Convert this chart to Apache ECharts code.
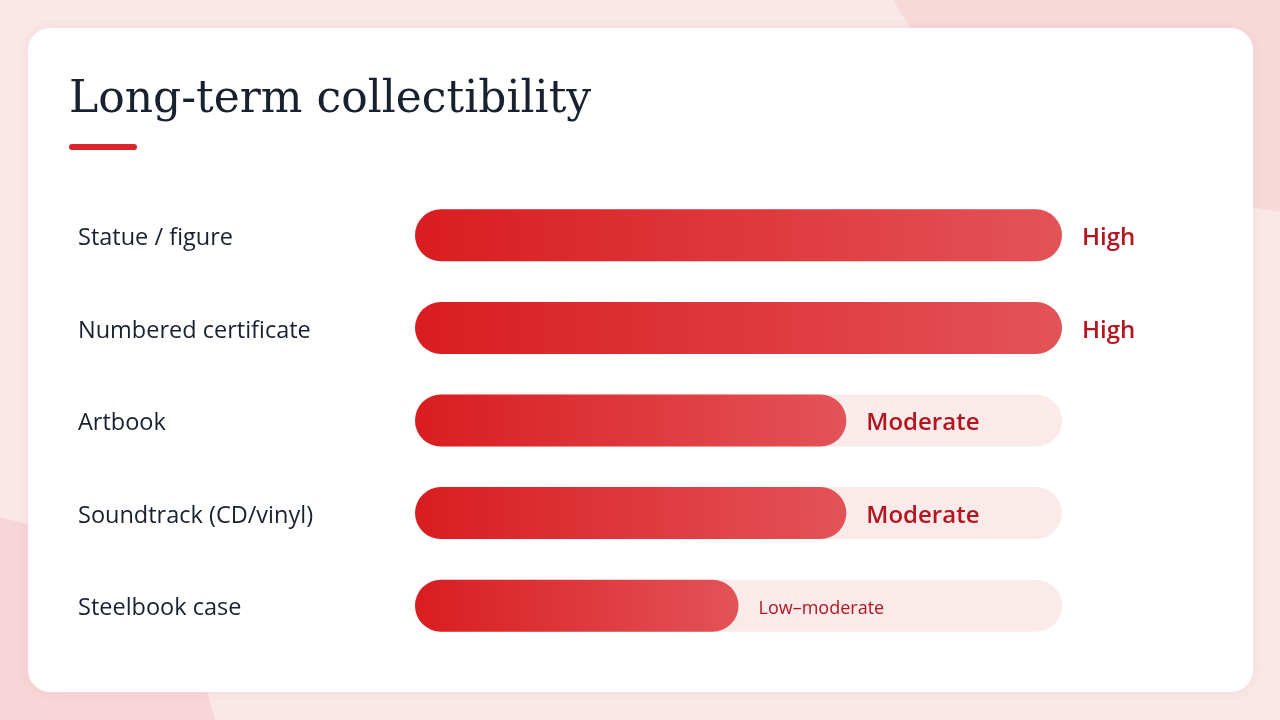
<!DOCTYPE html>
<html>
<head>
<meta charset="utf-8">
<style>
  html, body { margin: 0; padding: 0; width: 1280px; height: 720px; overflow: hidden; background: #fae7e7; }
  #chart { width: 1280px; height: 720px; }
</style>
<script src="https://cdn.jsdelivr.net/npm/echarts@6/dist/echarts.min.js"></script>
</head>
<body>
<div id="chart"></div>
<script>
// ---- Data ----
const categories = ['Statue / figure', 'Numbered certificate', 'Artbook', 'Soundtrack (CD/vinyl)', 'Steelbook case'];
const levelScores = [3, 3, 2, 2, 1.5];          // 0–3 scale (High = 3)
const levelLabels = ['High', 'High', 'Moderate', 'Moderate', 'Low–moderate'];
const labelSizes = [24, 24, 24, 24, 18];
const maxScore = 3;
const titleText = 'Long-term collectibility';

const chart = echarts.init(document.getElementById('chart'), null, { renderer: 'canvas' });

const barGradient = new echarts.graphic.LinearGradient(0, 0, 1, 0, [
  { offset: 0, color: '#d91d20' },
  { offset: 1, color: '#e35358' }
]);

const seriesData = levelScores.map((v, i) => ({
  value: v,
  label: { fontSize: labelSizes[i], fontWeight: labelSizes[i] > 20 ? 600 : 500 }
}));

const option = {
  backgroundColor: '#fae7e7',
  animation: false,
  graphic: [
    { type: 'polygon', z: -10, silent: true,
      shape: { points: [[893, 0], [1280, 0], [1280, 212], [1240, 205], [1000, 120], [930, 60]] },
      style: { fill: '#f7d9da' } },
    { type: 'polygon', z: -10, silent: true,
      shape: { points: [[0, 517], [60, 533], [140, 570], [190, 630], [215, 720], [0, 720]] },
      style: { fill: '#f6d6d8' } },
    { type: 'rect', z: -5, silent: true,
      shape: { x: 28, y: 28, width: 1225, height: 664, r: 22 },
      style: { fill: '#ffffff', shadowBlur: 12, shadowColor: 'rgba(200,80,80,0.08)' } },
    { type: 'text', left: 69, top: 79, silent: true,
      style: { text: titleText, font: '400 44px "DejaVu Serif", "Liberation Serif", serif', fill: '#18212f' } },
    { type: 'rect', silent: true,
      shape: { x: 69, y: 144, width: 68, height: 6, r: 3 },
      style: { fill: '#d8262b' } }
  ],
  grid: { left: 415, right: 218, top: 189, bottom: 68, containLabel: false },
  xAxis: { type: 'value', min: 0, max: maxScore, show: false },
  yAxis: {
    type: 'category', data: categories, inverse: true,
    axisLine: { show: false }, axisTick: { show: false }, splitLine: { show: false },
    axisLabel: {
      interval: 0, align: 'left', verticalAlign: 'top', lineHeight: 6,
      margin: 337, color: '#18212f',
      fontFamily: '"Open Sans", "Noto Sans", sans-serif', fontSize: 23.5, fontWeight: 500
    }
  },
  series: [{
    type: 'bar',
    data: seriesData,
    barWidth: 52,
    showBackground: true,
    backgroundStyle: { color: '#fbeaea', borderRadius: 26 },
    itemStyle: { color: barGradient, borderRadius: 26 },
    label: {
      show: true, position: 'right', distance: 20, offset: [0, 3],
      color: '#b3161f', fontFamily: '"Open Sans", "Noto Sans", sans-serif',
      formatter: p => levelLabels[p.dataIndex]
    }
  }]
};
chart.setOption(option);
</script>
</body>
</html>
